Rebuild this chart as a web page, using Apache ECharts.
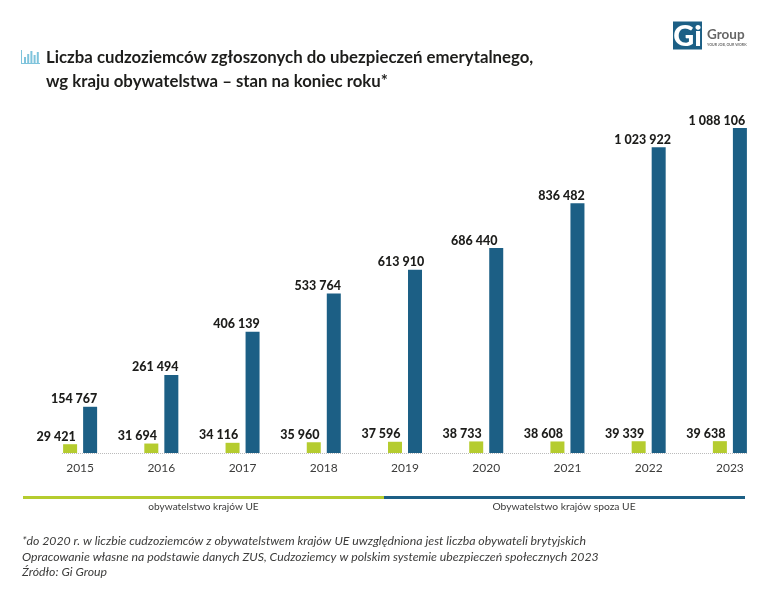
<!DOCTYPE html>
<html>
<head>
<meta charset="utf-8">
<style>html,body{margin:0;padding:0;background:#fff}#chart{width:768px;height:597px}</style>
<script src="https://cdn.jsdelivr.net/npm/echarts@6/dist/echarts.min.js"></script>
</head>
<body>
<div id="chart"></div>
<script>
var years = ['2015', '2016', '2017', '2018', '2019', '2020', '2021', '2022', '2023'];
var euValues = [29421, 31694, 34116, 35960, 37596, 38733, 38608, 39339, 39638];
var nonEuValues = [154767, 261494, 406139, 533764, 613910, 686440, 836482, 1023922, 1088106];
var iconBars = [6, 9, 12, 8, 11];

var GREEN = '#b5cc2f', BLUE = '#1c5f85', DARK = '#1d1d1b', GREY = '#3c3c3b';
var FONT = 'Lato';

function fmt(v) {
    return String(v).replace(/\B(?=(\d{3})+$)/g, ' ');
}

function text(x, y, str, size, weight, color, extra) {
    var style = {x: x, y: y, text: str, fontSize: size, fontWeight: weight, fill: color, fontFamily: FONT, textVerticalAlign: 'middle'};
    for (var k in extra) style[k] = extra[k];
    return {type: 'text', style: style, silent: true};
}

function rect(x, y, w, h, color) {
    return {type: 'rect', shape: {x: x, y: y, width: w, height: h}, style: {fill: color}, silent: true};
}

var chart = echarts.init(document.getElementById('chart'));

var graphics = [
    text(46, 58, 'Liczba cudzoziemców zgłoszonych do ubezpieczeń emerytalnego,', 16.8, 700, DARK),
    text(46, 82, 'wg kraju obywatelstwa – stan na koniec roku*', 16.8, 700, DARK),
    // dotted baseline
    {type: 'line', shape: {x1: 62, y1: 453.5, x2: 747, y2: 453.5}, style: {stroke: '#bbbbbb', lineWidth: 1, lineDash: [1, 1]}, silent: true},
    // legend strips
    rect(23, 496, 361, 3, GREEN),
    rect(384, 496, 361, 3, BLUE),
    text(203.5, 507, 'obywatelstwo krajów UE', 10.1, 400, GREY, {textAlign: 'center'}),
    text(564, 507, 'Obywatelstwo krajów spoza UE', 10.3, 400, GREY, {textAlign: 'center'}),
    // footnotes
    text(22, 541, '*do 2020 r. w liczbie cudzoziemców z obywatelstwem krajów UE uwzględniona jest liczba obywateli brytyjskich', 12.3, 400, GREY, {fontStyle: 'italic'}),
    text(22, 557, 'Opracowanie własne na podstawie danych ZUS, Cudzoziemcy w polskim systemie ubezpieczeń społecznych 2023', 12.3, 400, GREY, {fontStyle: 'italic'}),
    text(22, 572, 'Źródło: Gi Group', 12.3, 400, GREY, {fontStyle: 'italic'}),
    // logo
    rect(673, 21.5, 29, 28, BLUE),
    text(687.5, 36.5, 'Gi', 29, 900, '#ffffff', {textAlign: 'center'}),
    text(707, 35, 'Group', 13.5, 700, '#666666'),
    text(707, 45, 'YOUR JOB, OUR WORK', 3.6, 700, '#666666')
];

// small bar icon left of the title
iconBars.forEach(function (h, i) {
    graphics.push(rect(24 + i * 3.2, 63 - h, 2, h, '#7fc4dc'));
});
graphics.push(rect(21, 63, 19, 1, '#7fc4dc'));
graphics.push(rect(21, 50, 1, 13, '#7fc4dc'));

chart.setOption({
    animation: false,
    textStyle: {fontFamily: FONT},
    // grid runs past the canvas edge on purpose, v6 would shrink it otherwise
    grid: {left: 39.5, width: 731, top: 94.6, height: 358.4, outerBoundsMode: 'none'},
    xAxis: {
        type: 'category',
        data: years,
        axisLine: {show: false},
        axisTick: {show: false},
        axisLabel: {color: GREY, fontSize: 12, margin: 9}
    },
    yAxis: {type: 'value', min: 0, max: 1200000, show: false},
    series: [
        {
            type: 'bar',
            name: 'obywatelstwo krajów UE',
            data: euValues,
            barWidth: 14,
            barGap: '43%',
            itemStyle: {color: GREEN},
            label: {
                show: true, position: 'top', offset: [-14, 4],
                color: DARK, fontWeight: 900, fontSize: 12.5,
                formatter: function (p) { return fmt(p.value); }
            }
        },
        {
            type: 'bar',
            name: 'Obywatelstwo krajów spoza UE',
            data: nonEuValues.map(function (v, i) {
                // these labels sit further left or right than the rest
                if (i === 5) return {value: v, label: {offset: [-22, 4]}};
                if (i === 8) return {value: v, label: {offset: [-23, 4]}};
                if (i === 4) return {value: v, label: {offset: [-14, 4]}};
                return v;
            }),
            barWidth: 14,
            itemStyle: {color: BLUE},
            label: {
                show: true, position: 'top', offset: [-16, 4],
                color: DARK, fontWeight: 900, fontSize: 12.5,
                formatter: function (p) { return fmt(p.value); }
            }
        }
    ],
    graphic: graphics
});
</script>
</body>
</html>
